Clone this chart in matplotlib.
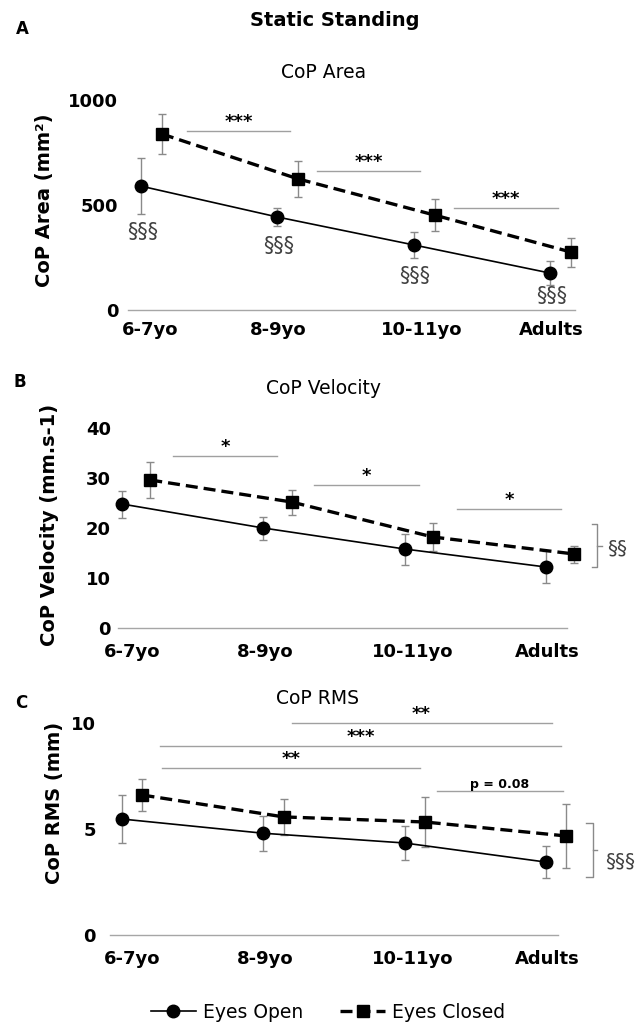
import matplotlib.pyplot as plt
import numpy as np

# ---- data ----
groups = ['6-7yo', '8-9yo', '10-11yo', 'Adults']

area_open = [590, 443, 310, 176]
area_open_sd = [135, 45, 60, 55]
area_closed = [838, 624, 452, 276]
area_closed_sd = [97, 86, 76, 69]

vel_open = [24.8, 20.0, 15.8, 12.2]
vel_open_sd = [2.7, 2.3, 3.1, 3.2]
vel_closed = [29.6, 25.2, 18.2, 14.8]
vel_closed_sd = [3.6, 2.5, 2.8, 1.7]

rms_open = [5.47, 4.80, 4.34, 3.44]
rms_open_sd = [1.13, 0.83, 0.78, 0.75]
rms_closed = [6.60, 5.57, 5.33, 4.67]
rms_closed_sd = [0.77, 0.85, 1.20, 1.50]

# significance bars: (from, to, height, label)
area_sig = [(0.34, 1.09, 852, '***'), (1.29, 2.05, 662, '***'), (2.30, 3.06, 486, '***')]
vel_sig = [(0.36, 1.10, 34.4, '*'), (1.36, 2.10, 28.6, '*'), (2.37, 3.11, 23.8, '*')]
rms_sig = [(1.20, 3.04, 10.0, '**'), (0.27, 3.11, 8.9, '***'),
           (0.28, 2.11, 7.9, '**'), (2.23, 3.12, 6.8, 'p = 0.08')]
area_sect_y = [371, 305, 162, 67]

W, H = 640, 1023
GRAY = '#8a8a8a'
LINE_GRAY = '#a6a6a6'
TICK_POS = [0.07, 1.01, 2.06, 3.01]

plt.rcParams['font.family'] = ['DejaVu Sans']
fig = plt.figure(figsize=(W / 100, H / 100), dpi=100)


def place_axes(left, right, y0, top, px0, step, yscale):
    # pixel box of the panel -> axes with matching data limits
    ax = fig.add_axes([left / W, 1 - y0 / H, (right - left) / W, (y0 - top) / H])
    ax.set_xlim((left - px0) / step, (right - px0) / step)
    ax.set_ylim(0, (y0 - top) / yscale)
    for s in ['top', 'right', 'left']:
        ax.spines[s].set_visible(False)
    ax.spines['bottom'].set_color(LINE_GRAY)
    ax.spines['bottom'].set_linewidth(1.0)
    ax.tick_params(length=0)
    return ax


def draw_series(ax, offset, y_open, e_open, y_closed, e_closed):
    x = np.arange(len(groups))
    for xs, ys, es in [(x, y_open, e_open), (x + offset, y_closed, e_closed)]:
        eb = ax.errorbar(xs, ys, yerr=es, fmt='none', ecolor=GRAY,
                         elinewidth=1, capsize=3, capthick=1, zorder=2)
        for art in eb.get_children():
            art.set_clip_on(False)
    ax.plot(x, y_open, color='black', lw=1.2, marker='o', ms=9, zorder=3,
            label='Eyes Open', clip_on=False)
    ax.plot(x + offset, y_closed, color='black', lw=2.4, ls=(0, (3.6, 1.8)),
            marker='s', ms=8.5, zorder=3, label='Eyes Closed', clip_on=False)


def sig(ax, x0, x1, y, label, size=13):
    ax.plot([x0, x1], [y, y], color='#a0a0a0', lw=1, clip_on=False)
    ax.text((x0 + x1) / 2, y, label, ha='center', va='bottom',
            fontsize=size, fontweight='bold', clip_on=False)


def bracket(ax, x, xl, xr, y0, y1, label, lx, ly):
    ax.plot([xl, x, x, xl], [y1, y1, y0, y0], color=GRAY, lw=1, clip_on=False)
    ym = (y0 + y1) / 2
    ax.plot([x, xr], [ym, ym], color=GRAY, lw=1, clip_on=False)
    ax.text(lx, ly, label, ha='left', va='center', fontsize=14.5,
            color='#404040', clip_on=False)


def style_ticks(ax, yticks, ypad, xpad):
    ax.set_xticks(TICK_POS)
    ax.set_xticklabels(groups, fontsize=13, fontweight='bold')
    ax.set_yticks(yticks)
    ax.set_yticklabels([str(v) for v in yticks], fontsize=13, fontweight='bold')
    ax.tick_params(axis='y', pad=ypad)
    ax.tick_params(axis='x', pad=xpad)


# ---- panel A: CoP Area ----
axA = place_axes(128, 575, 310, 85, 141, 136.3, 0.21)
draw_series(axA, 0.154, area_open, area_open_sd, area_closed, area_closed_sd)
for x0, x1, y, lab in area_sig:
    sig(axA, x0, x1, y, lab)
for i, y in enumerate(area_sect_y):
    axA.text(i + 0.01, y, '§§§', ha='center', va='center', fontsize=15,
             color='#404040', clip_on=False)
style_ticks(axA, [0, 500, 1000], 7, 8)

# ---- panel B: CoP Velocity ----
axB = place_axes(118, 567, 628, 420, 122, 141.3, 5.0)
draw_series(axB, 0.2, vel_open, vel_open_sd, vel_closed, vel_closed_sd)
for x0, x1, y, lab in vel_sig:
    sig(axB, x0, x1, y, lab)
bracket(axB, 3.36, 3.326, 3.397, 12.2, 20.8, '§§', 3.43, 16.0)
style_ticks(axB, [0, 10, 20, 30, 40], 5, 10.5)

# ---- panel C: CoP RMS ----
axC = place_axes(110, 558, 935, 700, 122, 141.3, 21.2)
draw_series(axC, 0.145, rms_open, rms_open_sd, rms_closed, rms_closed_sd)
for x0, x1, y, lab in rms_sig:
    sig(axC, x0, x1, y, lab, size=9 if lab.startswith('p') else 13)
bracket(axC, 3.333, 3.284, 3.36, 2.74, 5.28, '§§§', 3.42, 3.5)
style_ticks(axC, [0, 5, 10], 10, 10.5)

# ---- figure texts ----
def ftext(x, y, s, **kw):
    fig.text(x / W, 1 - y / H, s, ha='center', va='center', **kw)

ftext(335, 21, 'Static Standing', fontsize=14, fontweight='bold')
ftext(22, 29, 'A', fontsize=12, fontweight='bold')
ftext(20, 382, 'B', fontsize=12, fontweight='bold')
ftext(21, 703, 'C', fontsize=12, fontweight='bold')
ftext(324, 72, 'CoP Area', fontsize=13.5)
ftext(323, 389, 'CoP Velocity', fontsize=13.5)
ftext(318, 699, 'CoP RMS', fontsize=13.5)
ftext(45, 200, 'CoP Area (mm²)', fontsize=14, fontweight='bold', rotation=90)
ftext(50, 525, 'CoP Velocity (mm.s-1)', fontsize=14, fontweight='bold', rotation=90)
ftext(55, 803, 'CoP RMS (mm)', fontsize=14, fontweight='bold', rotation=90)

handles, labels = axC.get_legend_handles_labels()
fig.legend(handles, labels, loc='center', bbox_to_anchor=(328 / W, 1 - 1012 / H),
           ncol=2, frameon=False, fontsize=13.5, handlelength=2.4,
           handletextpad=0.37, columnspacing=2.0)

fig.savefig('out.png', dpi=100)
